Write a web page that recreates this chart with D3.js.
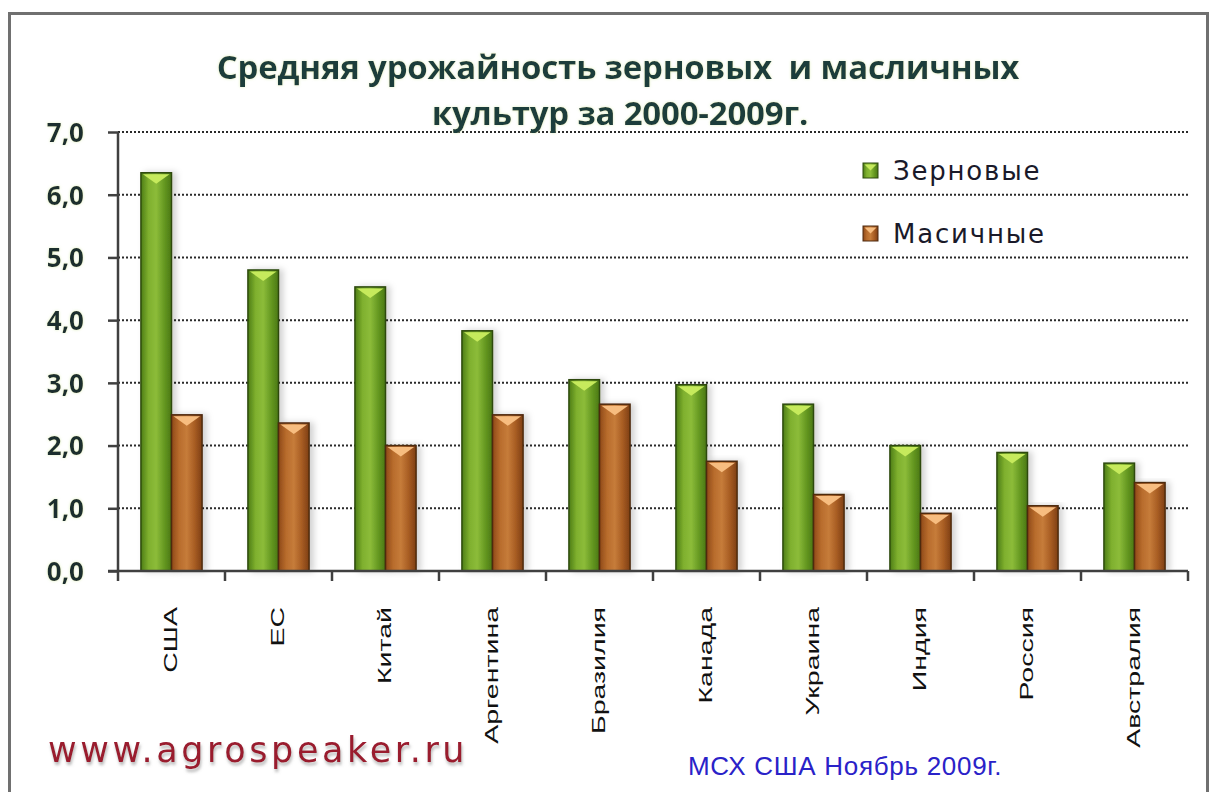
<!DOCTYPE html>
<html>
<head>
<meta charset="utf-8">
<script src="https://cdn.jsdelivr.net/npm/d3@7"></script>
<style>
  body { margin: 0; background: #fff; }
  svg { display: block; }
</style>
</head>
<body>
<div id="chart"></div>
<script>
// data
const countries = ['США', 'ЕС', 'Китай', 'Аргентина', 'Бразилия', 'Канада', 'Украина', 'Индия', 'Россия', 'Австралия'];
const grain = [6.35, 4.8, 4.53, 3.83, 3.05, 2.97, 2.66, 2.0, 1.89, 1.72];
const oilseed = [2.49, 2.36, 2.0, 2.49, 2.66, 1.75, 1.22, 0.92, 1.04, 1.41];
const seriesNames = ['Зерновые', 'Масичные'];
const yTicks = [0, 1, 2, 3, 4, 5, 6, 7];
const titleLines = ['Средняя урожайность зерновых  и масличных', 'культур за 2000-2009г.'];

const W = 1214, H = 792;
const margin = { top: 132, right: 26, bottom: 221, left: 118 };
const plotW = W - margin.left - margin.right;
const plotH = H - margin.top - margin.bottom;

const ru = d3.formatLocale({ decimal: ',', thousands: ' ', grouping: [3], currency: ['', ''] });
const fmt = ru.format('.1f');

const svg = d3.select('#chart').append('svg')
  .attr('width', W)
  .attr('height', H);

const defs = svg.append('defs');

// bar gradients
const palettes = [
  { id: 'g0', stops: ['#4d7d16', '#7fb02e', '#8cbc3a', '#679a22', '#4a7814'], tri: '#c6ea5c', edge: '#2f4a0e' },
  { id: 'g1', stops: ['#8e4818', '#b86c2c', '#c67c3a', '#a95e24', '#7e3e14'], tri: '#f7bd80', edge: '#4e2a10' }
];
palettes.forEach(p => {
  const g = defs.append('linearGradient').attr('id', p.id).attr('x1', 0).attr('x2', 1).attr('y1', 0).attr('y2', 0);
  p.stops.forEach((c, i) => g.append('stop').attr('offset', i / (p.stops.length - 1)).attr('stop-color', c));
});

const shadow = defs.append('filter').attr('id', 'shadow').attr('x', '-20%').attr('y', '-5%').attr('width', '160%').attr('height', '110%');
shadow.append('feDropShadow').attr('dx', 4).attr('dy', 0).attr('stdDeviation', 3).attr('flood-color', '#000').attr('flood-opacity', 0.18);

// soft pale halo behind title / axis numbers
const glow = defs.append('filter').attr('id', 'glow').attr('x', '-5%').attr('y', '-30%').attr('width', '110%').attr('height', '160%');
glow.append('feGaussianBlur').attr('in', 'SourceAlpha').attr('stdDeviation', 1.6).attr('result', 'b');
glow.append('feFlood').attr('flood-color', '#d8ecb0').attr('flood-opacity', 0.8).attr('result', 'c');
glow.append('feComposite').attr('in', 'c').attr('in2', 'b').attr('operator', 'in').attr('result', 'g');
const gm = glow.append('feMerge');
gm.append('feMergeNode').attr('in', 'g');
gm.append('feMergeNode').attr('in', 'SourceGraphic');

const tshadow = defs.append('filter').attr('id', 'tshadow').attr('x', '-5%').attr('y', '-30%').attr('width', '110%').attr('height', '170%');
tshadow.append('feDropShadow').attr('dx', 1).attr('dy', 3).attr('stdDeviation', 1.5).attr('flood-color', '#888').attr('flood-opacity', 0.6);

// background + frame
svg.append('rect').attr('width', W).attr('height', H).attr('fill', '#fff');
svg.append('rect')
  .attr('x', 9.5).attr('y', 13.5)
  .attr('width', 1198).attr('height', 800)
  .attr('fill', 'none').attr('stroke', '#707070').attr('stroke-width', 3);

// scales
const x0 = d3.scaleBand().domain(countries).range([0, plotW]).padding(0);
const x1 = d3.scaleBand().domain(seriesNames).range([0, x0.bandwidth()]).paddingInner(0).paddingOuter(0.75);
const y = d3.scaleLinear().domain([0, 7]).range([plotH, 0]);

const chart = svg.append('g').attr('transform', `translate(${margin.left},${margin.top})`);

// gridlines
chart.append('g').attr('class', 'grid')
  .selectAll('line')
  .data(yTicks.filter(d => d > 0))
  .join('line')
  .attr('x1', 0).attr('x2', plotW)
  .attr('y1', d => y(d)).attr('y2', d => y(d))
  .attr('stroke', '#2a2a2a').attr('stroke-width', 2)
  .attr('stroke-dasharray', '2,2');

// bars
const rows = countries.map((c, i) => ({ country: c, values: [grain[i], oilseed[i]] }));
const groups = chart.append('g').attr('class', 'bars')
  .selectAll('g')
  .data(rows)
  .join('g')
  .attr('transform', d => `translate(${x0(d.country)},0)`);

const bars = groups.selectAll('g')
  .data(d => d.values.map((v, k) => ({ k, v })))
  .join('g');

bars.append('rect')
  .attr('x', d => x1(seriesNames[d.k]))
  .attr('y', d => y(d.v))
  .attr('width', x1.bandwidth())
  .attr('height', d => plotH - y(d.v))
  .attr('fill', d => `url(#${palettes[d.k].id})`)
  .attr('stroke', d => palettes[d.k].edge)
  .attr('stroke-width', 1.5)
  .attr('filter', 'url(#shadow)');

bars.append('path')
  .attr('d', d => {
    const bx = x1(seriesNames[d.k]), bw = x1.bandwidth(), by = y(d.v);
    return `M${bx + 2},${by + 1.5} L${bx + bw - 2},${by + 1.5} L${bx + bw / 2},${by + 11} Z`;
  })
  .attr('fill', d => palettes[d.k].tri);

// axes
const yAxis = chart.append('g')
  .call(d3.axisLeft(y).tickValues(yTicks).tickSize(10).tickPadding(24).tickFormat(fmt));
yAxis.select('.domain').attr('stroke', '#404040').attr('stroke-width', 2.5).attr('d', `M0,0V${plotH}`);
yAxis.selectAll('.tick line').attr('stroke', '#404040').attr('stroke-width', 2.5);
yAxis.selectAll('.tick text')
  .attr('font-family', "'Open Sans', sans-serif")
  .attr('font-weight', 700)
  .attr('font-size', 26)
  .attr('fill', '#1f2f2f')
  .attr('dy', '0.36em')
  .attr('filter', 'url(#glow)');

const xAxis = chart.append('g')
  .attr('transform', `translate(0,${plotH})`)
  .call(d3.axisBottom(x0).tickSize(0).tickFormat(''));
xAxis.select('.domain').attr('stroke', '#404040').attr('stroke-width', 2.5).attr('d', `M-10,0H${plotW}`);

// category boundary ticks
const bounds = countries.map(c => x0(c)).concat([plotW]);
xAxis.append('g')
  .selectAll('line')
  .data(bounds)
  .join('line')
  .attr('x1', d => d).attr('x2', d => d)
  .attr('y1', 0).attr('y2', 10)
  .attr('stroke', '#404040').attr('stroke-width', 2.5);

// rotated category labels
xAxis.append('g')
  .selectAll('text')
  .data(countries)
  .join('text')
  .attr('transform', d => `translate(${x0(d) + x0.bandwidth() / 2 - 1},36) rotate(-90) scale(1.5,1)`)
  .attr('text-anchor', 'end')
  .attr('dy', '0.35em')
  .attr('font-family', "'Liberation Sans', Arial, sans-serif")
  .attr('font-size', 19)
  .attr('fill', '#111')
  .text(d => d);

// title
svg.append('g')
  .selectAll('text')
  .data(titleLines)
  .join('text')
  .attr('x', (d, i) => i === 0 ? 618 : 620)
  .attr('y', (d, i) => i === 0 ? 79 : 125)
  .attr('text-anchor', 'middle')
  .attr('font-family', "'Open Sans', sans-serif")
  .attr('font-weight', 700)
  .attr('font-size', 33)
  .attr('letter-spacing', -0.2)
  .attr('fill', '#1e3c3a')
  .attr('filter', 'url(#glow)')
  .style('white-space', 'pre')
  .text(d => d);

// legend
const legend = svg.append('g').attr('transform', 'translate(863,0)');
const legY = [171, 234];
const li = legend.selectAll('g')
  .data(seriesNames)
  .join('g')
  .attr('transform', (d, i) => `translate(0,${legY[i]})`);
li.append('rect')
  .attr('x', 0).attr('y', -8).attr('width', 15).attr('height', 15)
  .attr('fill', (d, i) => `url(#${palettes[i].id})`)
  .attr('stroke', (d, i) => palettes[i].edge).attr('stroke-width', 1);
li.append('path')
  .attr('d', 'M1.5,-6.5 L13.5,-6.5 L7.5,-0.5 Z')
  .attr('fill', (d, i) => palettes[i].tri);
li.append('text')
  .attr('x', 30).attr('dy', '0.36em')
  .attr('font-family', "'DejaVu Sans', Verdana, sans-serif")
  .attr('font-size', 26)
  .attr('letter-spacing', 1.8)
  .attr('fill', '#1a1a2a')
  .text(d => d);

// footer texts
svg.append('text')
  .attr('x', 48).attr('y', 762)
  .attr('font-family', "'DejaVu Sans', Verdana, sans-serif")
  .attr('font-size', 35)
  .attr('letter-spacing', 3.6)
  .attr('fill', '#9a1a2e')
  .attr('filter', 'url(#tshadow)')
  .text('www.agrospeaker.ru');

svg.append('text')
  .attr('x', 688).attr('y', 775)
  .attr('font-family', "'Liberation Sans', Arial, sans-serif")
  .attr('font-size', 26)
  .attr('letter-spacing', 0.7)
  .attr('fill', '#2a22c8')
  .text('МСХ США Ноябрь 2009г.');
</script>
</body>
</html>
